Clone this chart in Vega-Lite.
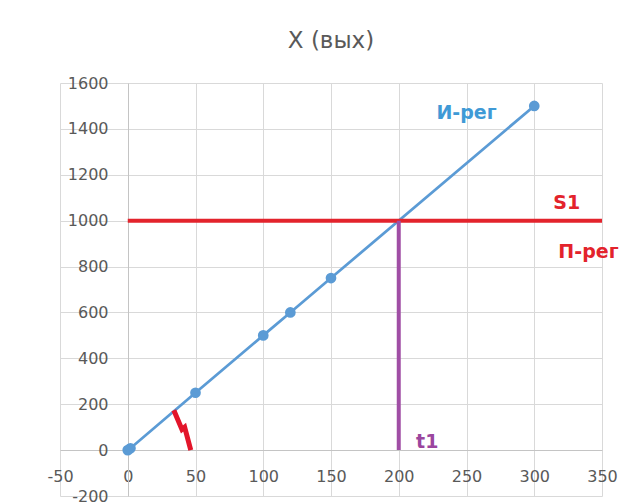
{
  "$schema": "https://vega.github.io/schema/vega-lite/v6.json",
  "width": 542,
  "height": 413,
  "autosize": {"type": "none"},
  "padding": {"left": 60, "top": 83, "right": 29, "bottom": 8},
  "background": "white",
  "title": {"text": "X (вых)", "fontSize": 23, "font": "DejaVu Sans", "fontWeight": "normal", "color": "#595959", "anchor": "middle", "frame": "group", "offset": 22},
  "config": {"view": {"stroke": null}, "font": "DejaVu Sans"},
  "datasets": {
    "ireg": [
      {"x": 0, "y": 0},
      {"x": 2, "y": 8},
      {"x": 50, "y": 250},
      {"x": 100, "y": 500},
      {"x": 120, "y": 600},
      {"x": 150, "y": 750},
      {"x": 300, "y": 1500}
    ],
    "s1": [{"x": 0, "x2": 350, "y": 1000}],
    "t1": [{"x": 200, "y": 0, "y2": 1000}],
    "arrow": [
      {"x": 34, "y": 174},
      {"x": 40, "y": 90},
      {"x": 42, "y": 100},
      {"x": 46.5, "y": 0}
    ],
    "labels": [
      {"label": "И-рег", "x": 250, "y": 1471},
      {"label": "S1", "x": 324, "y": 1077},
      {"label": "П-рег", "x": 340, "y": 863},
      {"label": "t1", "x": 221, "y": 36}
    ]
  },
  "layer": [
    {
      "data": {"name": "ireg"},
      "mark": {"type": "line", "color": "#5b9bd5", "strokeWidth": 2.75, "point": {"filled": true, "size": 115, "color": "#5b9bd5", "opacity": 1}},
      "encoding": {
        "x": {
          "field": "x", "type": "quantitative",
          "scale": {"domain": [-50, 350], "nice": false, "zero": false},
          "axis": {
            "values": [-50, 0, 50, 100, 150, 200, 250, 300, 350],
            "labelExpr": "'' + datum.value",
            "title": null, "offset": -46, "ticks": false, "labelPadding": 18,
            "labelFontSize": 16, "labelColor": "#595959", "labelFont": "DejaVu Sans",
            "gridColor": "#d9d9d9", "domainColor": "#c4c4c4", "labelFlush": false, "labelOverlap": false
          }
        },
        "y": {
          "field": "y", "type": "quantitative",
          "scale": {"domain": [-200, 1600], "nice": false, "zero": false},
          "axis": {
            "values": [-200, 0, 200, 400, 600, 800, 1000, 1200, 1400, 1600],
            "labelExpr": "'' + datum.value",
            "title": null, "offset": -68, "ticks": false, "labelPadding": 20,
            "labelFontSize": 16, "labelColor": "#595959", "labelFont": "DejaVu Sans",
            "gridColor": "#d9d9d9", "domainColor": "#c4c4c4", "labelFlush": false, "labelOverlap": false
          }
        }
      }
    },
    {
      "data": {"name": "s1"},
      "mark": {"type": "rule", "color": "#e3232c", "strokeWidth": 4},
      "encoding": {
        "x": {"field": "x", "type": "quantitative"},
        "x2": {"field": "x2"},
        "y": {"field": "y", "type": "quantitative"}
      }
    },
    {
      "data": {"name": "t1"},
      "mark": {"type": "rule", "color": "#a04ea5", "strokeWidth": 4},
      "encoding": {
        "x": {"field": "x", "type": "quantitative"},
        "y": {"field": "y", "type": "quantitative"},
        "y2": {"field": "y2"}
      }
    },
    {
      "data": {"name": "arrow"},
      "mark": {"type": "line", "color": "#e3152a", "strokeWidth": 5, "strokeJoin": "miter"},
      "encoding": {
        "x": {"field": "x", "type": "quantitative"},
        "y": {"field": "y", "type": "quantitative"}
      }
    },
    {
      "data": {"name": "labels"},
      "mark": {"type": "text", "font": "DejaVu Sans", "fontSize": 19, "fontWeight": "bold", "align": "center", "baseline": "middle"},
      "encoding": {
        "x": {"field": "x", "type": "quantitative"},
        "y": {"field": "y", "type": "quantitative"},
        "text": {"field": "label"},
        "color": {
          "field": "label", "type": "nominal", "legend": null,
          "scale": {"domain": ["И-рег", "S1", "П-рег", "t1"], "range": ["#3f9ad6", "#e3232c", "#e3232c", "#9b469e"]}
        }
      }
    }
  ]
}
